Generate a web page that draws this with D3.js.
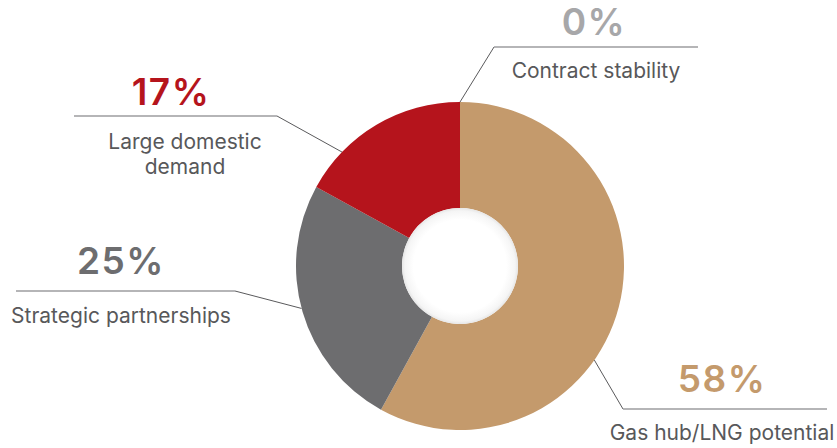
<!DOCTYPE html>
<html>
<head>
<meta charset="utf-8">
<script src="https://cdn.jsdelivr.net/npm/d3@7"></script>
<style>
  html, body { margin: 0; padding: 0; background: #ffffff; }
  svg { display: block; font-family: Inter, "Noto Sans", sans-serif; }
</style>
</head>
<body>
<svg id="chart" width="837" height="448"></svg>
<script>
// Share of respondents by primary driver
const categories = ["Gas hub/LNG potential", "Strategic partnerships", "Large domestic demand", "Contract stability"];
const shares = [58, 25, 17, 0];
const valueLabels = ["58%", "25%", "17%", "0%"];
const sliceColors = ["#c49a6c", "#6d6d6f", "#b5141c", "#a7a7a9"];

// Callout layout: anchor angle on the rim (degrees clockwise from 12 o'clock),
// elbow point, end of the shelf, and text placement.
const callouts = [
  { angle: 125, elbow: [623, 409], shelfEnd: 827, tx: 722, pctY: 392, lines: ["Gas hub/LNG potential"], lblY: 440 },
  { angle: 255, elbow: [235, 291], shelfEnd: 16,  tx: 121, pctY: 274, lines: ["Strategic partnerships"], lblY: 323 },
  { angle: 314, elbow: [277, 116], shelfEnd: 74,  tx: 171, pctY: 105, lines: ["Large domestic", "demand"], lblY: 149, lblX: 185 },
  { angle: 360, elbow: [494, 47],  shelfEnd: 698, tx: 594, pctY: 35,  lines: ["Contract stability"], lblY: 78, lblX: 596 }
];

const svg = d3.select("#chart");
const cx = 460, cy = 266, outerR = 164, innerR = 58;

const pie = d3.pie().sort(null).value(d => d)(shares);
const arc = d3.arc().innerRadius(innerR).outerRadius(outerR);

const g = svg.append("g").attr("transform", `translate(${cx},${cy})`);
g.selectAll("path.slice")
  .data(pie)
  .join("path")
  .attr("class", "slice")
  .attr("d", arc)
  .attr("fill", (d, i) => sliceColors[i]);

// Soft shading around the rim of the hole
const defs = svg.append("defs");
const grad = defs.append("radialGradient").attr("id", "holeShade");
grad.append("stop").attr("offset", "0.8").attr("stop-color", "#ffffff");
grad.append("stop").attr("offset", "0.95").attr("stop-color", "#f5f5f5");
grad.append("stop").attr("offset", "1").attr("stop-color", "#e6e6e6");
g.append("circle").attr("r", innerR).attr("fill", "url(#holeShade)");

// Callouts
const rad = a => a * Math.PI / 180;
callouts.forEach((c, i) => {
  const ax = cx + Math.sin(rad(c.angle)) * outerR;
  const ay = cy - Math.cos(rad(c.angle)) * outerR;
  svg.append("line")
    .attr("x1", ax).attr("y1", ay)
    .attr("x2", c.elbow[0]).attr("y2", c.elbow[1])
    .attr("stroke", "#5a5a5c").attr("stroke-width", 1);
  svg.append("line")
    .attr("x1", c.elbow[0]).attr("y1", c.elbow[1])
    .attr("x2", c.shelfEnd).attr("y2", c.elbow[1])
    .attr("stroke", "#9d9d9f").attr("stroke-width", 1.6);

  svg.append("text")
    .attr("x", c.tx).attr("y", c.pctY)
    .attr("text-anchor", "middle")
    .attr("font-size", 37).attr("font-weight", 600)
    .attr("letter-spacing", 1.5)
    .attr("fill", sliceColors[i])
    .text(valueLabels[i]);

  const t = svg.append("text")
    .attr("text-anchor", "middle")
    .attr("font-size", 21)
    .attr("fill", "#58585a");
  c.lines.forEach((ln, k) => {
    t.append("tspan")
      .attr("x", c.lblX != null ? c.lblX : c.tx)
      .attr("y", c.lblY + k * 25)
      .text(ln);
  });
});
</script>
</body>
</html>
